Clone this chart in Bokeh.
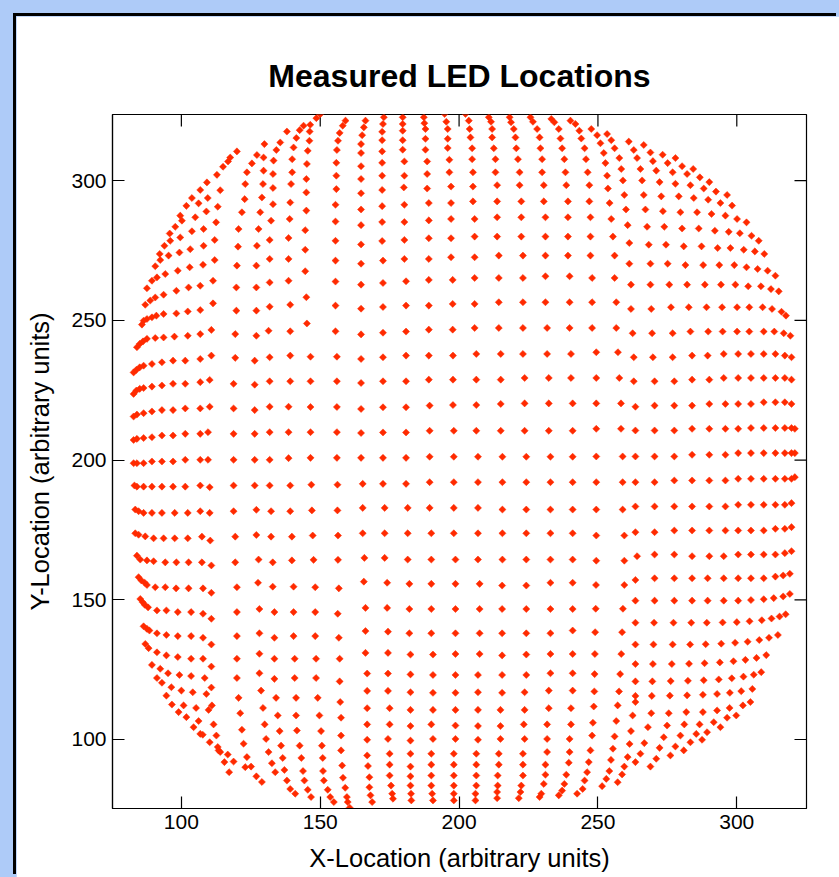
import numpy as np
from bokeh.plotting import figure
from bokeh.models import ColumnDataSource, Range1d, FixedTicker, GlobalInlineStyleSheet
from bokeh.embed import file_html
from bokeh.resources import INLINE

TITLE = "Measured LED Locations"
X_LABEL = "X-Location (arbitrary units)"
Y_LABEL = "Y-Location (arbitrary units)"
X_TICKS = [100, 150, 200, 250, 300]
Y_TICKS = [100, 150, 200, 250, 300]
X_MIN, X_MAX = 75.2, 325.1
Y_MIN, Y_MAX = 75.3, 323.7

# ---- top centre block (columns read top to bottom)
TC_X = [166.3,165.7,165.1,164.7,164.7,164.7,164.7,164.7,164.7,164.7,164.7,164.7,164.7,164.7,164.7,
        172.9,172.6,172.3,172.3,172.3,172.3,172.3,172.3,172.3,172.3,172.3,172.6,172.6,172.6,172.6,
        179.7,179.7,179.7,179.7,179.7,180.3,180.3,180.1,180.3,180.3,180.3,180.3,180.9,180.9,180.9,
        187.3,187.5,187.9,187.9,187.9,188.5,188.5,188.5,189.1,189.1,189.1,189.1,189.1,189.1,189.1,
        194.8,195.4,195.9,195.9,195.9,196.5,196.5,197.1,197.1,197.1,197.1,197.1,197.7,197.7,197.7,
        202.3,203.5,203.8,204.1,204.7,204.7,205.0,205.0,205.0,205.6,205.6,205.6,205.6,205.6,205.6,
        210.7,211.5,211.9,211.9,212.5,213.1,213.1,213.7,213.7,213.7,213.7,214.3,214.3,214.3,214.3,
        218.2,218.7,219.7,220.3,220.6,221.2,221.8,221.8,222.4,222.4,222.4,223.0,223.0,223.0,223.0,
        225.7,226.6,228.1,229.0,229.3,229.9,229.9,230.5,230.5,231.1,231.1,231.1,231.1,231.1,231.7,
        233.2,234.3,235.9,236.5,237.1,237.9,238.3,238.6,239.2,239.2,239.2,239.2,239.8,239.8,239.8,
        240.1]
TC_Y = [321.5,319.1,316.3,313.1,309.9,305.2,300.6,295.5,289.7,284.1,277.2,270.3,262.8,254.2,245.0,
        322.7,320.3,317.5,314.5,310.5,306.4,301.8,296.7,290.9,285.2,278.4,271.4,263.4,254.8,245.6,
        322.7,320.3,317.9,314.5,311.1,306.9,301.8,297.6,291.4,285.2,278.8,272.0,264.0,255.3,246.0,
        322.7,320.6,318.5,315.0,311.1,306.9,302.4,297.2,292.0,285.8,279.4,272.0,264.5,255.3,246.7,
        323.9,321.1,318.5,315.0,311.7,307.5,303.0,297.9,292.0,286.3,279.4,272.6,264.5,255.9,246.7,
        323.9,321.5,318.5,315.5,311.6,307.7,303.0,297.9,292.6,286.3,280.0,272.6,265.2,255.9,247.3,
        322.7,321.1,318.5,315.5,311.6,307.7,303.0,298.4,292.6,286.9,280.0,273.2,265.2,256.5,247.3,
        322.7,320.9,318.5,315.5,311.6,307.7,303.0,298.4,292.6,286.9,280.0,273.2,265.2,256.5,247.3,
        322.7,321.1,318.5,315.5,311.6,307.7,303.0,298.4,292.6,286.9,280.0,273.2,265.8,256.5,247.3,
        322.1,320.9,318.5,315.1,311.6,307.7,303.0,298.4,292.6,286.9,280.0,273.2,265.8,256.5,247.3,
        321.5]

# ---- top left, right-hand columns of the left-hand block
TL_X = [159.1,158.1,157.0,156.4,156.0,155.8,155.8,155.8,155.5,155.5,155.5,155.5,155.5,155.5,155.5,
        150.0,148.6,146.4,146.2,146.1,145.5,145.2,145.0,145.0,145.0,144.6,144.6,144.6,145.0,145.2,
        144.0,142.6,141.4,140.4,139.9,139.9,139.5,139.2,139.0,138.6,138.6,138.6,139.2,139.2,
        138.0,135.6,134.2,133.2,133.0,133.0,133.0,132.3,131.8,131.8,131.8,131.8,131.4,
        129.9,129.6,129.6,129.4,129.0,128.4,127.8,127.2,127.0,127.0,127.0,127.0,
        127.2,125.4,123.6,123.0,122.8,121.8,120.6,120.4,120.0,119.8,119.8,119.4]
TL_Y = [321.5,319.7,317.1,314.3,311.0,306.4,301.8,297.0,291.4,285.4,278.5,271.4,263.9,255.3,246.1,
        323.8,322.4,320.0,317.6,314.3,310.7,306.0,300.6,295.8,289.3,282.3,275.3,267.6,258.3,248.9,
        319.7,318.1,315.3,311.9,307.7,303.0,298.8,292.2,286.3,279.5,272.0,264.2,255.6,246.1,
        317.6,313.7,311.0,307.2,302.4,297.4,291.6,285.7,278.8,272.0,263.6,254.9,246.3,
        313.1,308.3,303.6,298.8,294.0,288.7,282.7,276.7,269.6,261.8,253.5,244.5,
        309.2,306.2,303.0,298.8,293.4,288.7,282.7,276.4,269.6,261.8,253.5,245.1]

# ---- top left, curved outer block (rows)
TLL_X = [84.0,85.0,86.2,87.6,90.6,93.6,97.5,102.3,106.8,110.8,
         85.8,86.4,87.6,89.4,91.0,93.6,98.2,102.3,106.8,111.4,
         87.0,88.8,90.6,93.6,98.2,102.6,106.8,111.4,
         87.6,89.4,91.2,94.2,98.7,103.0,107.8,112.0,
         90.6,92.4,95.4,99.3,103.2,108.0,112.0,
         92.2,93.9,96.0,99.6,103.8,108.0,112.5,
         95.8,97.8,100.2,105.0,109.0,113.1,
         99.6,101.8,106.2,109.5,114.0,
         103.8,106.8,109.2,112.8,115.0,116.8,117.6,120.0]
TLL_Y = [240.4,241.6,242.5,243.4,243.7,243.9,244.2,244.5,245.1,246.6,
         248.5,249.9,250.5,251.1,251.7,252.3,252.5,253.2,253.7,256.1,
         255.6,257.1,258.2,259.2,260.6,261.8,262.4,264.2,
         261.5,264.2,265.4,266.6,267.8,269.0,269.9,271.6,
         269.4,271.6,273.2,274.3,275.5,276.7,278.8,
         273.8,276.7,278.5,279.7,281.9,282.7,285.1,
         281.1,283.5,285.7,286.9,289.0,290.7,
         287.5,291.0,291.9,293.8,296.6,
         293.8,296.7,299.4,302.1,305.0,306.9,308.3,310.5]

# ---- top right block (rows read left to right)
TR_X = [241.9,247.6,253.3,
        243.3,249.7,254.8,261.1,266.5,
        244.0,250.9,256.0,262.9,268.9,273.3,277.9,
        245.2,252.1,257.7,264.1,269.8,275.1,280.3,284.3,
        245.7,252.7,258.4,265.3,271.0,276.9,282.1,286.7,290.1,
        246.3,253.3,259.0,265.9,272.2,277.9,283.3,288.1,292.5,296.5,
        246.9,253.6,259.5,266.5,272.8,279.1,284.5,289.7,294.1,298.3,
        246.9,254.2,260.1,267.1,273.4,279.7,285.7,290.9,295.9,300.1,303.5,
        247.3,254.8,260.7,267.7,273.9,280.3,286.3,292.1,297.1,301.1,305.3,307.9,
        247.3,255.4,261.3,268.3,274.5,280.9,287.3,293.1,297.7,302.5,306.5,309.9,
        247.3,256.0,261.3,268.9,275.1,281.5,287.9,293.7,299.1,303.5,307.5,311.1,313.9,
        247.9,256.0,261.9,268.9,275.7,282.1,288.5,294.3,299.5,304.1,308.7,312.3,315.1,
        247.9,256.6,261.9,269.2,276.3,282.7,289.1,294.7,300.1,304.5,309.3,312.7,316.1,317.7,
        247.9,256.6,262.5,269.5,276.9,283.3,289.7,294.9,300.1,304.5,309.7,313.5,316.9,319.3]
TR_Y = [320.3,318.5,316.7,
        317.9,316.3,314.5,314.0,312.8,
        315.1,313.4,311.6,311.0,310.1,309.3,308.1,
        311.6,309.9,308.1,308.1,307.0,306.3,305.2,304.2,
        307.7,306.3,304.2,304.2,303.6,303.0,302.4,301.2,299.5,
        303.0,301.8,300.1,300.1,299.5,298.9,298.4,297.2,296.1,294.9,
        298.4,297.2,294.9,294.9,294.4,294.4,293.8,293.2,292.0,291.1,
        292.6,292.0,289.7,289.7,289.1,288.7,288.7,288.1,287.5,286.3,285.1,
        286.9,286.3,284.1,283.5,283.5,282.9,282.9,282.1,281.7,281.2,280.3,278.5,
        280.0,280.0,277.7,277.1,277.1,276.5,276.5,275.9,275.9,275.3,274.7,273.8,
        273.2,273.2,270.3,270.3,270.3,269.8,269.8,269.8,269.8,269.0,268.4,267.8,266.0,
        265.2,265.2,262.8,262.8,262.8,262.8,262.8,262.8,262.8,262.2,262.2,261.2,260.4,
        256.5,256.5,254.1,254.1,254.7,254.7,254.7,254.7,254.7,254.7,254.7,254.1,253.1,251.7,
        247.3,247.3,245.4,245.4,245.4,246.0,246.0,246.0,246.0,246.0,246.0,246.0,245.4,244.5]

# ---- middle left block (rows)
ML_X = [82.8,83.8,85.0,86.4,89.4,93.0,97.0,101.4,106.8,110.8,119.4,126.4,131.8,139.2,146.5,156.0,
        82.8,83.8,85.0,86.4,89.4,93.0,97.0,101.4,106.8,110.2,118.8,126.4,131.8,139.2,146.5,156.0,
        82.8,84.0,86.4,89.4,93.0,97.0,101.4,106.8,110.2,118.8,126.4,131.8,138.6,146.5,156.0,
        82.8,84.0,86.4,89.4,93.0,97.0,101.4,106.8,109.6,118.8,126.4,131.8,138.6,146.5,156.0,
        82.8,84.0,86.4,89.4,93.0,97.0,101.4,106.8,109.6,118.8,126.4,131.8,138.6,146.5,156.0,
        83.1,84.0,86.4,89.4,93.0,97.0,101.4,106.8,110.2,118.8,126.4,131.8,139.2,146.8,156.2,
        83.4,84.6,86.4,89.4,93.0,97.6,102.3,106.8,110.2,118.8,127.0,132.3,139.2,147.0,156.2,
        83.4,84.6,87.0,90.0,93.6,97.6,102.3,107.4,110.4,119.4,127.0,132.3,139.8,147.3,156.4,
        84.0,85.2,87.6,90.0,94.2,98.2,102.6,107.4,110.8,119.4,127.8,132.9,139.8,147.6,156.4]
ML_Y = [231.4,232.3,233.2,233.8,234.4,235.0,235.6,235.6,236.2,237.4,236.6,235.6,236.8,237.4,237.0,237.0,
        223.7,224.9,225.5,225.8,226.3,226.7,227.3,227.3,227.9,228.7,227.3,227.0,228.2,228.2,228.2,228.2,
        215.6,216.3,216.8,217.4,217.9,217.9,218.5,218.5,219.1,218.5,217.9,219.1,219.1,219.0,219.0,
        207.2,207.6,207.9,208.2,208.8,208.8,209.4,209.4,210.0,209.4,209.4,210.0,210.0,210.0,210.0,
        198.9,198.9,198.9,199.5,199.5,199.5,200.1,200.1,200.1,200.1,200.1,200.1,200.7,200.8,200.8,
        190.9,190.5,190.5,190.5,190.5,190.5,190.5,190.9,190.3,190.9,190.9,190.9,190.9,191.2,191.2,
        182.3,181.7,181.1,181.1,181.1,181.1,181.1,181.7,181.1,181.7,182.2,181.7,181.7,182.0,182.0,
        173.8,173.3,172.7,172.0,172.0,172.0,172.0,172.6,171.2,172.6,173.2,172.6,172.6,173.0,173.0,
        165.8,164.4,164.1,163.8,163.4,163.4,163.4,163.4,162.3,163.4,164.4,163.4,164.1,164.3,164.3]

# ---- middle centre block (rows)
MC_X = [164.7,172.6,180.9,189.1,197.8,206.2,215.0,223.0,231.7,240.3,
        164.7,172.6,180.9,189.1,197.8,206.2,215.0,223.6,232.3,240.3,
        164.7,172.6,180.9,189.4,197.8,206.2,215.0,223.6,232.3,240.9,
        164.7,172.6,180.9,189.4,198.1,206.2,215.0,223.6,232.3,240.9,
        164.7,172.6,180.9,189.4,198.1,206.8,215.6,224.2,232.9,240.9,
        165.3,172.6,180.9,189.4,198.1,206.8,215.6,224.2,232.9,240.9,
        165.3,173.2,181.5,189.4,198.1,206.8,215.6,224.2,232.9,240.9,
        165.3,173.2,181.5,190.0,198.1,206.8,215.6,224.2,232.9,240.9,
        165.9,173.2,181.5,190.0,198.7,206.8,215.6,224.2,232.9,240.9]
MC_Y = [236.2,236.8,237.4,237.4,237.4,238.0,238.0,238.0,238.0,238.0,
        227.6,228.2,228.2,228.8,228.8,228.8,228.8,229.4,229.4,229.4,
        218.3,218.9,218.9,219.5,219.7,219.7,220.1,220.3,220.3,220.3,
        209.7,209.9,209.9,210.5,210.5,210.5,210.5,210.5,210.5,210.5,
        200.8,200.8,200.8,201.2,201.2,201.2,201.2,201.2,201.2,201.2,
        191.5,191.5,191.5,192.1,192.1,192.1,192.1,192.1,192.1,192.1,
        182.9,182.9,182.9,182.9,182.9,182.9,182.3,182.3,182.3,182.3,
        173.8,173.8,173.8,173.8,173.8,173.8,173.8,173.8,173.8,173.8,
        165.0,165.0,164.4,164.4,164.4,164.4,164.4,164.4,164.4,164.4]

# ---- middle right block (rows)
MR_X = [249.4,257.2,262.9,269.8,276.9,283.9,289.5,295.3,300.5,305.1,309.7,313.9,317.3,319.7,
        249.4,257.7,262.9,270.4,277.5,283.9,290.1,295.3,300.5,305.1,309.7,313.9,317.3,319.7,
        249.4,258.3,263.5,270.4,277.5,283.9,290.1,295.9,300.5,305.1,309.7,313.9,317.3,319.7,
        249.4,258.3,263.5,270.4,277.5,283.9,290.1,295.9,300.5,305.1,309.7,313.9,317.3,319.7,320.9,
        249.4,258.9,263.5,270.4,277.5,283.9,290.1,295.9,300.5,305.1,309.7,313.9,317.3,319.7,320.9,
        249.4,258.9,263.5,270.4,277.5,283.9,290.1,295.9,300.5,305.1,309.7,313.9,317.3,319.7,320.9,
        249.4,258.9,263.5,270.4,277.5,283.9,290.1,295.9,300.5,305.1,309.7,313.9,317.3,319.7,
        249.4,259.5,263.5,270.4,277.5,283.9,290.1,295.9,300.5,305.1,309.7,313.9,317.3,319.7,
        249.4,259.5,264.1,270.4,277.5,283.9,290.1,295.3,300.5,305.1,309.7,313.9,317.3,319.7]
MR_Y = [238.6,238.6,236.8,236.8,236.8,237.4,237.4,238.0,238.0,238.0,238.0,238.0,237.4,236.8,
        229.4,229.4,228.2,228.2,228.2,228.8,228.8,229.4,229.4,229.4,229.4,229.4,229.4,228.8,
        220.3,220.3,219.1,219.5,219.5,219.5,220.1,220.1,220.1,220.1,220.7,220.7,220.7,220.1,
        211.2,211.2,210.6,210.6,210.6,211.2,211.2,211.2,211.2,211.5,211.5,211.5,211.5,211.5,211.2,
        201.3,201.3,201.3,201.3,201.3,201.9,201.9,201.9,202.5,202.5,202.5,202.5,202.5,202.5,202.5,
        192.1,192.1,192.1,192.1,192.7,192.7,192.7,192.7,193.3,193.3,193.3,193.3,193.3,193.3,193.9,
        182.3,182.3,183.4,183.4,183.4,183.4,183.4,183.4,184.0,184.0,184.0,184.0,184.0,184.6,
        173.0,173.0,174.2,174.2,174.8,174.8,174.8,174.8,174.8,174.8,174.8,175.4,175.4,176.0,
        164.0,164.0,165.6,166.2,166.2,165.6,165.6,165.6,166.2,166.2,166.2,166.2,166.7,167.4]

# ---- bottom left block, upper rows
BL_X = [84.6,85.6,86.8,87.6,90.6,94.2,98.1,102.6,107.8,110.8,120.0,127.6,132.9,140.4,148.2,156.7,
        85.2,86.1,86.8,88.0,91.2,94.6,98.7,103.5,107.8,110.8,120.0,128.1,133.5,140.4,148.2,156.3,
        86.4,87.6,88.5,91.2,94.6,98.7,103.5,107.8,110.8,120.0,128.1,133.5,140.4,148.2,156.7,
        87.0,88.2,91.2,94.6,98.7,103.5,107.8,110.8,120.0,128.1,133.5,140.8,148.5,157.0,
        89.4,92.4,95.2,99.3,103.5,108.4,110.8,120.0,128.1,133.5,140.8,148.5,157.0,
        91.2,93.0,96.4,100.0,104.1,109.0,120.6,128.7,134.1,141.3,149.1,94.6]
BL_Y = [158.1,156.9,156.1,155.3,154.5,154.5,154.1,154.1,154.1,152.5,154.5,156.1,154.7,154.7,154.5,154.1,
        150.3,149.1,148.2,147.3,146.2,146.2,145.6,145.6,145.0,143.2,145.6,146.7,145.6,145.6,145.6,145.0,
        140.5,139.6,139.0,138.0,137.4,137.0,137.0,136.4,134.0,137.0,138.0,136.4,137.0,137.0,136.4,
        134.2,132.7,131.2,130.1,129.5,128.9,128.9,126.1,128.9,130.7,128.9,128.9,128.9,128.9,
        126.7,125.3,123.7,123.1,122.7,122.0,118.6,122.0,123.7,121.7,122.0,122.0,120.8,
        122.0,120.3,118.7,117.5,116.9,116.3,114.9,117.5,114.9,114.9,114.9,115.7]

# ---- bottom left block, lowest part
BLB_X = [96.6,99.0,100.8,101.8,104.4,105.3,106.2,106.8,107.7,109.8,110.2,111.0,111.6,112.6,113.1,113.4,
         114.0,116.7,115.5,118.8,117.2,121.2,121.8,122.4,123.6,123.0,125.1,127.0,129.0,129.4,130.0,
         130.5,131.4,132.6,133.8,134.7,135.4,135.9,136.5,137.1,138.0,139.2,141.0,141.3,141.6,142.6,
         143.2,143.8,144.3,145.5,146.7,149.7,150.3,150.6,150.9,151.0,151.3,152.7,153.6,154.9,157.2,
         157.5,157.5,157.5,157.9,158.2,159.0,159.6,159.9,160.6]
BLB_Y = [112.5,109.8,112.2,108.0,104.4,111.3,106.6,102.0,101.7,110.6,99.0,112.2,105.4,101.4,97.3,96.1,
         95.5,94.6,91.9,92.1,88.3,109.4,103.5,98.5,93.7,90.1,90.3,86.8,84.8,111.3,105.4,
         100.2,95.5,91.5,88.3,108.6,103.0,97.8,93.4,89.1,85.3,82.3,80.6,108.6,103.2,97.8,
         93.4,88.7,85.3,82.0,79.4,108.6,103.0,97.8,93.4,88.7,85.3,82.0,79.4,77.6,113.4,
         107.8,101.4,96.1,90.7,86.3,82.7,79.4,77.6,75.6]

# ---- bottom centre block (columns)
BC_X = [165.7,166.3,166.3,166.3,166.9,166.9,166.9,166.9,166.9,166.9,167.2,167.7,167.7,168.1,168.7,
        174.1,174.1,174.4,174.4,174.4,174.4,175.0,175.0,174.4,175.0,175.0,175.0,175.5,175.9,176.2,
        182.1,182.1,182.1,182.5,182.5,182.5,182.5,182.5,182.5,182.5,182.5,182.5,182.5,182.7,182.8,
        190.0,190.0,190.0,190.6,190.6,190.6,190.6,190.0,190.6,190.0,190.0,190.0,190.0,190.3,190.6,
        198.7,198.7,198.7,198.7,198.7,198.7,198.7,198.7,198.7,198.1,198.1,198.1,198.1,198.1,198.1,
        207.4,207.4,207.4,207.4,206.8,206.8,206.8,206.8,206.8,206.2,206.2,206.2,206.2,205.9,205.9,
        215.5,215.5,215.5,215.5,215.5,215.5,214.9,214.9,214.9,214.3,214.3,213.9,213.9,213.7,213.7,
        224.2,224.2,224.2,224.2,224.2,223.6,223.6,223.3,223.6,223.0,223.0,223.0,222.4,222.1,221.5,
        232.9,232.9,232.9,232.9,232.9,232.3,232.3,231.7,231.7,231.7,231.1,231.1,230.5,229.6,229.0,
        240.9,240.9,240.9,240.9,240.9,240.9,240.3,240.3,239.8,239.8,239.5,238.6,237.9,237.1,235.9]
BC_Y = [156.5,147.1,138.8,131.0,123.6,117.4,111.2,105.4,99.9,94.3,90.5,86.5,82.9,80.0,77.6,
        156.1,147.1,138.6,131.0,123.6,117.4,111.2,105.4,100.2,94.9,91.0,87.1,83.5,80.6,78.8,
        155.7,146.7,138.0,130.4,123.3,116.9,110.6,104.8,99.6,94.9,90.3,86.8,83.5,80.6,78.2,
        155.7,146.7,138.0,130.4,123.1,116.7,110.6,105.4,100.2,94.9,91.0,87.1,83.5,80.6,78.2,
        155.7,146.7,138.0,130.6,123.1,116.7,110.6,105.0,100.2,94.9,91.0,87.1,83.5,80.6,78.2,
        155.7,146.7,138.0,130.6,123.1,116.9,110.6,104.8,99.9,94.9,91.0,87.1,83.5,80.6,78.2,
        155.1,146.7,138.0,130.1,123.1,116.7,110.6,104.8,100.2,94.9,91.0,87.1,83.5,81.2,79.0,
        155.1,146.7,138.0,130.4,123.1,116.9,110.6,105.4,100.2,94.9,91.0,87.1,83.5,81.2,79.0,
        156.1,146.7,138.0,130.6,123.7,117.5,111.2,105.4,100.2,95.5,91.0,87.4,84.1,80.6,79.4,
        156.1,146.7,139.0,130.6,123.7,117.5,111.2,105.4,100.2,95.5,91.7,87.4,84.1,81.7,80.0]

# ---- bottom right block, upper rows
BRU_X = [259.5,263.5,270.4,277.5,283.9,289.5,295.3,300.5,305.1,309.7,313.9,316.7,319.1,
         249.3,249.2,249.0,248.9,248.8,248.7,
         259.0,258.7,258.4,258.0,257.6,
         263.5,270.4,277.5,283.9,289.5,295.3,300.5,305.1,309.7,313.3,316.7,319.1,
         263.5,270.2,277.2,283.6,289.2,294.9,300.0,304.6,309.0,312.5,315.4,317.6,
         263.5,270.0,276.9,283.2,288.8,294.4,299.4,303.9,308.1,311.6,314.8,
         263.5,269.8,276.6,282.8,288.4,293.9,298.8,303.1,307.1,310.6,
         263.5,269.6,276.2,282.4,288.1,293.5,298.2,302.4,306.1,308.8,
         263.5,269.4,275.9,282.1,287.8,292.9,297.5,301.6,305.6]
BRU_Y = [155.3,157.1,157.7,157.7,157.7,157.7,157.7,157.7,157.7,157.7,158.3,158.7,159.3,
         155.3,146.8,138.4,130.6,123.4,117.2,
         146.8,138.4,130.6,123.4,117.2,
         149.7,149.7,149.7,149.7,149.7,149.7,149.7,149.9,150.2,150.6,151.2,152.1,
         141.8,141.8,141.8,141.8,141.8,141.9,142.0,142.3,142.7,143.3,144.0,144.8,
         134.0,134.0,134.0,134.0,134.1,134.3,134.6,135.0,135.6,136.4,137.4,
         127.0,127.0,127.0,127.1,127.3,127.6,128.0,128.5,129.2,130.2,
         120.8,120.8,120.9,121.0,121.2,121.5,121.9,122.5,123.2,124.1,
         115.6,115.6,115.7,115.8,116.0,116.3,116.7,117.3,118.1]

# ---- bottom right block, lowest part
BR_X = [248.5,248.2,247.9,247.3,246.7,246.1,245.2,244.5,242.5,
        257.1,256.6,256.0,255.4,254.7,254.1,253.0,251.5,
        263.5,262.5,261.9,261.4,260.7,259.5,258.7,257.1,
        269.2,268.0,266.7,265.3,263.5,
        275.5,274.9,273.7,272.2,271.0,268.9,
        281.8,281.1,279.7,277.9,276.1,
        287.8,286.6,285.4,283.3,280.9,
        292.9,291.7,289.3,287.5,
        297.4,296.5,294.1,
        302.2,299.8,
        304.9]
BR_Y = [111.8,106.0,101.4,96.1,91.9,88.3,85.3,82.3,80.6,
        112.2,106.6,101.1,96.7,92.7,88.7,85.9,83.3,
        113.4,108.6,103.0,98.4,93.7,90.3,87.5,84.7,
        109.4,104.4,98.7,94.9,91.9,
        109.4,105.0,100.8,97.0,93.1,90.3,
        109.8,105.4,101.4,97.5,94.3,
        109.8,105.4,102.0,99.0,96.1,
        110.4,106.2,102.6,99.9,
        111.3,107.8,104.4,
        112.2,108.6,
        113.4]

xs = TC_X + TL_X + TLL_X + TR_X + ML_X + MC_X + MR_X + BL_X + BLB_X + BC_X + BRU_X + BR_X
ys = TC_Y + TL_Y + TLL_Y + TR_Y + ML_Y + MC_Y + MR_Y + BL_Y + BLB_Y + BC_Y + BRU_Y + BR_Y
source = ColumnDataSource(data=dict(x=xs, y=ys))

FONT = "Liberation Sans"

p = figure(width=823, height=861,
           x_range=Range1d(X_MIN, X_MAX), y_range=Range1d(Y_MIN, Y_MAX),
           output_backend="svg", toolbar_location=None,
           min_border_left=96, min_border_right=33, min_border_top=98, min_border_bottom=69,
           background_fill_color="white", border_fill_color="white",
           outline_line_color="black", outline_line_width=1.2)
p.margin = (16, 0, 0, 16)
p.styles = {"box-shadow": "-3px -3px 0px 0px #000000"}
p.stylesheets = [GlobalInlineStyleSheet(css="html, body { margin: 0 !important; padding: 0 !important; background-color: #AECBF8 !important; overflow: hidden; }")]

p.title.text = TITLE
p.title.text_font = FONT
p.title.text_font_size = "32px"
p.title.text_font_style = "bold"
p.title.text_color = "black"
p.title.align = "center"
p.title.standoff = 41

p.xgrid.visible = False
p.ygrid.visible = False

for ax, ticks in ((p.xaxis[0], X_TICKS), (p.yaxis[0], Y_TICKS)):
    ax.ticker = FixedTicker(ticks=ticks)
    ax.major_tick_in = 12
    ax.major_tick_out = 0
    ax.minor_tick_in = 0
    ax.minor_tick_out = 0
    ax.axis_line_color = "black"
    ax.axis_line_width = 1.2
    ax.major_tick_line_color = "black"
    ax.major_tick_line_width = 1.2
    ax.major_label_text_font = FONT
    ax.major_label_text_font_size = "21px"
    ax.major_label_text_color = "black"
    ax.major_label_standoff = 6
    ax.axis_label_text_font = FONT
    ax.axis_label_text_font_size = "25.5px"
    ax.axis_label_text_font_style = "normal"
    ax.axis_label_text_color = "black"
p.xaxis[0].axis_label = X_LABEL
p.yaxis[0].axis_label = Y_LABEL
p.xaxis[0].axis_label_standoff = 12
p.yaxis[0].axis_label_standoff = 14
p.yaxis[0].major_label_orientation = "horizontal"

# mirrored inward ticks on the top and right edges of the frame
p.ray(x=X_TICKS, y=Y_MAX, length=12, length_units="screen", angle=-np.pi / 2,
      line_color="black", line_width=1.2)
p.ray(x=X_MAX, y=Y_TICKS, length=12, length_units="screen", angle=np.pi,
      line_color="black", line_width=1.2)

p.scatter("x", "y", source=source, marker="square", angle=np.pi / 4, size=5,
          fill_color="#FF2A00", line_color="#FF2A00", line_width=0.5)

open("out.html", "w").write(file_html(p, INLINE))
